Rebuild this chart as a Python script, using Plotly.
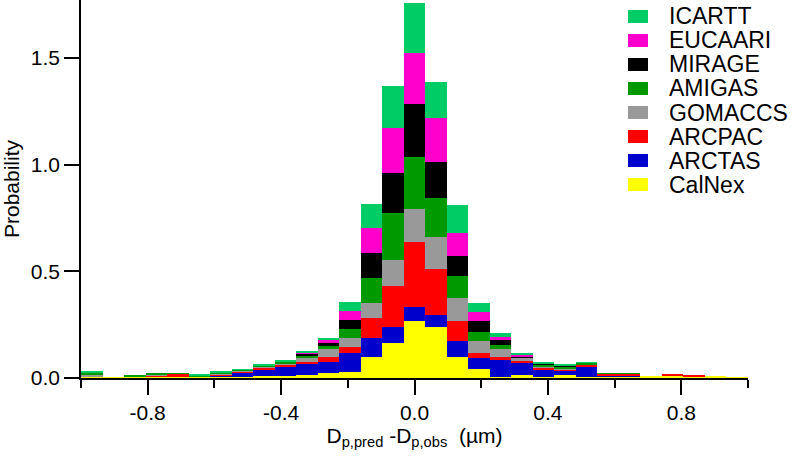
import plotly.graph_objects as go

# Bin centres of the difference histogram (um), bin width 2/31
bin_centers = [-0.9677, -0.9032, -0.8387, -0.7742, -0.7097, -0.6452, -0.5806, -0.5161,
               -0.4516, -0.3871, -0.3226, -0.2581, -0.1935, -0.1290, -0.0645, 0.0,
               0.0645, 0.1290, 0.1935, 0.2581, 0.3226, 0.3871, 0.4516, 0.5161,
               0.5806, 0.6452, 0.7097, 0.7742, 0.8387, 0.9032, 0.9677]
bin_width = 0.0645

# Stacked contributions (bottom to top)
calnex  = [0.008, 0.004, 0.006, 0.007, 0.007, 0.006, 0.008, 0.006, 0.008, 0.008, 0.014,
           0.022, 0.030, 0.097, 0.163, 0.269, 0.238, 0.100, 0.042, 0.005, 0.014, 0.005,
           0.014, 0.006, 0.006, 0.006, 0.008, 0.008, 0.006, 0.005, 0.003]
arctas  = [0.0, 0.0, 0.0, 0.0, 0.0, 0.0, 0.002, 0.020, 0.030, 0.045, 0.052,
           0.052, 0.086, 0.089, 0.077, 0.065, 0.057, 0.075, 0.053, 0.079, 0.055, 0.037,
           0.020, 0.050, 0.002, 0.002, 0.0, 0.0, 0.0, 0.0, 0.0]
arcpac  = [0.0, 0.0, 0.0, 0.005, 0.013, 0.0, 0.008, 0.006, 0.011, 0.008, 0.010,
           0.023, 0.029, 0.094, 0.191, 0.305, 0.215, 0.094, 0.024, 0.016, 0.012, 0.008,
           0.006, 0.006, 0.012, 0.012, 0.0, 0.010, 0.004, 0.0, 0.0]
gomaccs = [0.008, 0.0, 0.0, 0.005, 0.0, 0.0, 0.002, 0.002, 0.003, 0.006, 0.021,
           0.040, 0.044, 0.073, 0.122, 0.152, 0.152, 0.108, 0.056, 0.034, 0.013, 0.006,
           0.004, 0.002, 0.0, 0.0, 0.0, 0.0, 0.0, 0.0, 0.0]
amigas  = [0.012, 0.0, 0.006, 0.003, 0.002, 0.004, 0.008, 0.007, 0.008, 0.008, 0.009,
           0.013, 0.041, 0.117, 0.219, 0.246, 0.181, 0.101, 0.042, 0.019, 0.003, 0.008,
           0.012, 0.007, 0.002, 0.002, 0.0, 0.0, 0.0, 0.0, 0.0]
mirage  = [0.0, 0.0, 0.0, 0.0, 0.0, 0.0, 0.0, 0.0, 0.0, 0.002, 0.007,
           0.015, 0.042, 0.115, 0.191, 0.248, 0.171, 0.094, 0.052, 0.025, 0.006, 0.002,
           0.001, 0.0, 0.0, 0.0, 0.0, 0.0, 0.0, 0.0, 0.0]
eucaari = [0.0, 0.0, 0.0, 0.0, 0.0, 0.0, 0.0, 0.0, 0.0, 0.002, 0.007,
           0.013, 0.042, 0.117, 0.208, 0.237, 0.203, 0.109, 0.039, 0.016, 0.005, 0.003,
           0.002, 0.0, 0.0, 0.0, 0.0, 0.0, 0.0, 0.0, 0.0]
icartt  = [0.002, 0.0, 0.0, 0.0, 0.0, 0.008, 0.002, 0.001, 0.001, 0.002, 0.007,
           0.011, 0.042, 0.114, 0.199, 0.237, 0.172, 0.130, 0.044, 0.016, 0.008, 0.003,
           0.002, 0.002, 0.0, 0.0, 0.0, 0.0, 0.0, 0.0, 0.0]

series_names = ["CalNex", "ARCTAS", "ARCPAC", "GOMACCS", "AMIGAS", "MIRAGE", "EUCAARI", "ICARTT"]
series_values = [calnex, arctas, arcpac, gomaccs, amigas, mirage, eucaari, icartt]
series_colors = ["#FFFF00", "#0000CC", "#FF0000", "#999999", "#009900", "#000000", "#FF00CC", "#00CC66"]

y_ticks = [0.0, 0.5, 1.0, 1.5]
x_ticks = [-0.8, -0.4, 0.0, 0.4, 0.8]

FONT = "Liberation Sans, Arial, sans-serif"
W, H = 799, 458
ML, MR, MT, MB = 81, 51, 0, 80

fig = go.Figure()
for name, vals, col in zip(series_names, series_values, series_colors):
    fig.add_trace(go.Bar(x=bin_centers, y=vals, width=bin_width, name=name,
                         marker=dict(color=col, line=dict(width=0)), showlegend=False))

# Manual legend (top to bottom: ICARTT ... CalNex)
pw, ph = W - ML - MR, H - MT - MB
def px_to_paper(xp, yp):
    return (xp - ML) / pw, (H - MB - yp) / ph

row0, step = 16.5, 24.0
for i, (name, col) in enumerate(zip(series_names[::-1], series_colors[::-1])):
    yc = row0 + i * step
    x0, y0 = px_to_paper(628, yc + 6.5)
    x1, y1 = px_to_paper(648, yc - 6.5)
    fig.add_shape(type="rect", xref="paper", yref="paper", x0=x0, x1=x1, y0=y0, y1=y1,
                  fillcolor=col, line=dict(width=0))
    tx, ty = px_to_paper(667, yc)
    fig.add_annotation(xref="paper", yref="paper", x=tx, y=ty, text=name, showarrow=False,
                       xanchor="left", yanchor="middle",
                       font=dict(family=FONT, size=23, color="black"))

fig.update_layout(
    width=W, height=H,
    margin=dict(l=ML, r=MR, t=MT, b=MB, autoexpand=False),
    barmode="stack", bargap=0,
    paper_bgcolor="white", plot_bgcolor="white",
    font=dict(family=FONT, size=20, color="black"),
)
fig.update_xaxes(range=[-1.0, 1.0], tickvals=x_ticks, ticktext=["%.1f" % v for v in x_ticks],
                 ticks="outside", ticklen=15, tickwidth=1.5, tickcolor="black", automargin=False,
                 showline=True, linecolor="black", linewidth=1.5, showgrid=False, zeroline=False,
                 minor=dict(tickvals=[-1.0, -0.6, -0.2, 0.2, 0.6, 1.0], ticks="outside", ticklen=8,
                            tickwidth=1.5, tickcolor="black", showgrid=False),
                 tickfont=dict(size=21),
                 title=dict(text="D<sub>p,pred</sub> -D<sub>p,obs</sub>  (\u00b5m)", font=dict(size=21), standoff=4))
fig.update_yaxes(range=[0, 1.772], tickvals=y_ticks, ticktext=["%.1f" % v for v in y_ticks],
                 ticks="outside", ticklen=15, tickwidth=1.5, tickcolor="black", automargin=False,
                 showline=True, linecolor="black", linewidth=1.5, showgrid=False, zeroline=False,
                 tickfont=dict(size=21),
                 title=dict(text="Probability", font=dict(size=21), standoff=10))

fig.write_html("out.html", config={"displayModeBar": False},
               post_script="document.body.style.margin='0px';document.body.style.overflow='hidden';")
